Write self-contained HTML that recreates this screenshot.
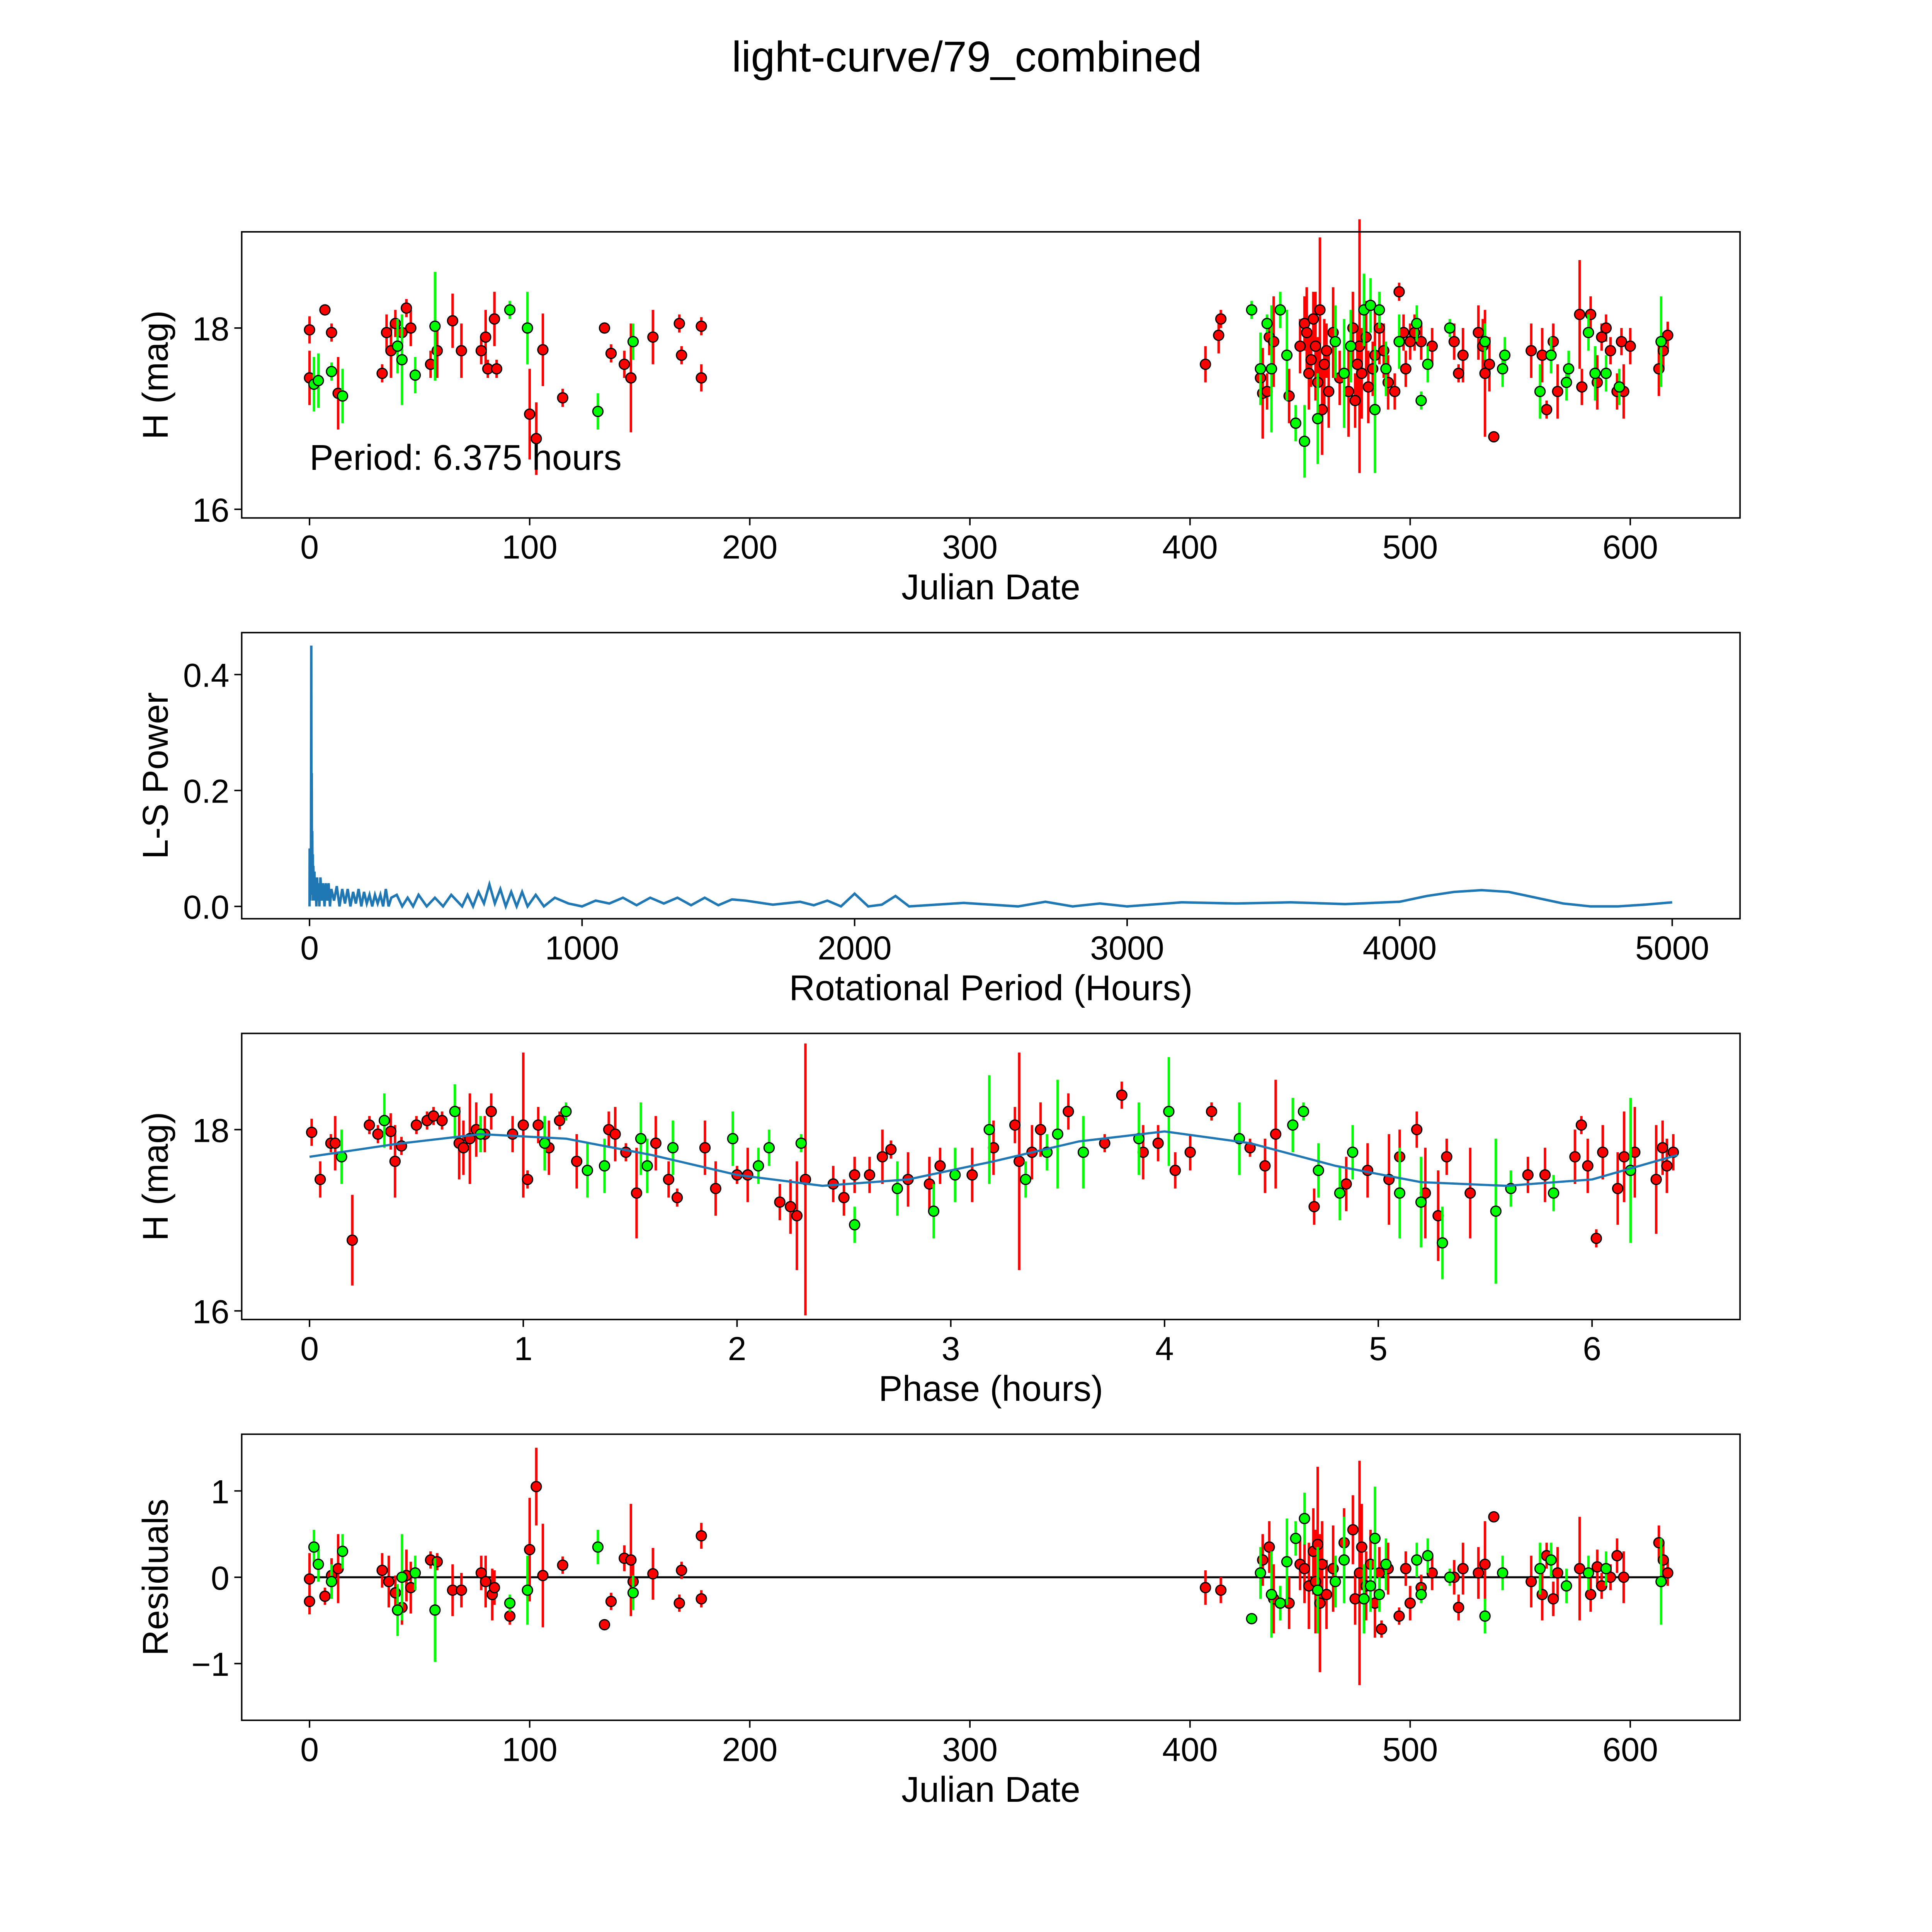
<!DOCTYPE html>
<html><head><meta charset="utf-8"><style>
html,body{margin:0;padding:0;background:#fff;overflow:hidden;}
svg{display:block;font-family:"Liberation Sans","DejaVu Sans",sans-serif;}
</style></head><body>
<svg id="fig" width="5400" height="5400" viewBox="0 0 1692 1692" xmlns="http://www.w3.org/2000/svg">
<rect x="0" y="0" width="1692" height="1692" fill="#fff"/>
<text x="784" y="58" font-size="35" text-anchor="middle">light-curve/79_combined</text>
</svg>
<script>
// ---------- DATA ----------
const p1RedDate=[0,0,7,10,13,33,35,37,39,42,44,46,55,58,65,69,78,80,81,84,85,100,103,106,115,134,137,143,146,156,168,169,178,178,407,413,414,432,433,435,436,438,445,450,452,453,454,455,456,457,458,459,460,461,462,463,465,468,472,474,475,476,477,478,480,481,483,484,486,488,490,493,495,497,498,500,502,505,510,520,522,524,531,533,534,536,538,555,560,562,565,567,577,578,582,585,587,589,591,594,596,597,600,613,615,617];
const p1RedMag=[17.98,17.45,18.2,17.95,17.28,17.5,17.95,17.75,18.05,17.95,18.22,18.0,17.6,17.75,18.08,17.75,17.75,17.9,17.55,18.1,17.55,17.05,16.78,17.76,17.23,18.0,17.72,17.6,17.45,17.9,18.05,17.7,18.02,17.45,17.6,17.92,18.1,17.45,17.28,17.3,17.9,17.85,17.25,17.8,18.05,17.95,17.5,17.65,18.1,17.8,17.4,18.2,17.1,17.6,17.75,17.3,17.95,17.45,17.3,18.0,17.2,17.6,17.8,17.5,17.9,17.35,17.55,17.7,18.0,17.75,17.4,17.3,18.4,17.95,17.55,17.85,17.95,17.85,17.8,17.85,17.5,17.7,17.95,17.8,17.5,17.6,16.8,17.75,17.7,17.1,17.85,17.3,18.15,17.35,18.15,17.4,17.9,18.0,17.75,17.3,17.85,17.3,17.8,17.55,17.75,17.92];
const p1RedErr=[.15,.3,.05,.1,.4,.1,.2,.3,.15,.2,.1,.2,.15,.3,.3,.3,.15,.3,.1,.3,.1,.5,.4,.4,.1,.05,.1,.15,.6,.3,.1,.1,.1,.15,.2,.2,.1,.2,.5,.2,.2,.5,.3,.3,.3,.5,.4,.3,.3,.6,.5,.8,.5,.5,.3,.4,.5,.3,.5,.4,.3,.4,1.4,.5,.4,.4,.3,.5,.4,.3,.3,.2,.1,.2,.2,.2,.2,.2,.2,.2,.1,.3,.3,.3,.7,.3,.05,.3,.3,.1,.2,.3,.6,.2,.2,.3,.15,.15,.15,.2,.15,.3,.2,.3,.2,.15];
const p1GreenDate=[2,4,10,15,40,42,48,57,91,99,131,147,428,432,435,437,441,444,448,452,458,466,470,473,479,482,484,486,489,495,503,505,508,518,534,542,543,559,564,571,572,581,584,589,595,614];
const p1GreenMag=[17.38,17.42,17.52,17.25,17.8,17.65,17.48,18.02,18.2,18.0,17.08,17.85,18.2,17.55,18.05,17.55,18.2,17.7,16.95,16.75,17.0,17.85,17.5,17.8,18.2,18.25,17.1,18.2,17.55,17.85,18.05,17.2,17.6,18.0,17.85,17.55,17.7,17.3,17.7,17.4,17.55,17.95,17.5,17.5,17.35,17.85];
const p1GreenErr=[.3,.3,.1,.3,.3,.5,.2,.6,.1,.4,.2,.2,.1,.4,.1,.7,.2,.5,.2,.4,.5,.4,.6,.4,.4,.3,.7,.2,.3,.3,.2,.1,.2,.1,.2,.2,.2,.3,.2,.2,.2,.2,.3,.2,.2,.5];

const lsPeriod=[0,0.5,1,2,3,4,5,6,6.4,7,8,9,10,11,12,13,14,16,18,20,22,25,28,30,33,36,40,45,50,55,60,65,70,75,80,90,100,110,120,130,140,150,160,170,180,190,200,210,220,230,240,250,260,270,280,290,300,320,340,360,380,400,430,460,490,520,560,580,600,620,640,660,680,700,720,740,760,780,800,830,860,900,950,1000,1050,1100,1150,1200,1250,1300,1350,1400,1450,1500,1550,1600,1700,1800,1850,1900,1950,2000,2050,2100,2150,2200,2300,2400,2500,2600,2700,2800,2900,3000,3200,3400,3600,3800,4000,4100,4200,4300,4400,4500,4600,4700,4800,4900,5000];
const lsPower=[0,0.1,0.02,0.09,0.01,0.07,0.05,0.3,0.45,0.08,0.23,0.02,0.13,0.03,0.09,0.01,0.07,0.02,0.06,0.01,0.05,0.0,0.05,0.01,0.04,0.0,0.05,0.01,0.04,0.0,0.04,0.01,0.04,0.0,0.03,0.01,0.035,0.0,0.03,0.005,0.03,0.0,0.025,0.005,0.03,0.0,0.025,0.005,0.02,0.0,0.02,0.005,0.02,0.0,0.03,0.0,0.015,0.02,0.0,0.015,0.0,0.02,0.0,0.015,0.0,0.02,0.0,0.02,0.0,0.025,0.005,0.038,0.005,0.03,0.0,0.025,0.0,0.025,0.0,0.02,0.0,0.015,0.005,0.0,0.01,0.005,0.015,0.002,0.015,0.005,0.015,0.002,0.015,0.002,0.012,0.01,0.003,0.008,0.002,0.01,0.0,0.022,0.0,0.003,0.018,0.0,0.003,0.006,0.003,0.0,0.008,0.0,0.005,0.0,0.007,0.005,0.007,0.004,0.008,0.018,0.025,0.028,0.025,0.015,0.005,0.0,0.0,0.003,0.007];

const p3RedPhase=[0.01,0.05,0.1,0.12,0.2,0.28,0.32,0.38,0.4,0.43,0.5,0.55,0.58,0.62,0.7,0.72,0.75,0.78,0.82,0.85,0.95,1.0,1.02,1.07,1.12,1.17,1.25,1.4,1.43,1.48,1.53,1.62,1.68,1.72,1.85,1.9,2.0,2.05,2.2,2.25,2.28,2.32,2.45,2.5,2.55,2.62,2.68,2.72,2.8,2.9,2.95,3.1,3.2,3.3,3.32,3.38,3.42,3.55,3.72,3.8,3.9,3.97,4.05,4.12,4.22,4.4,4.47,4.52,4.7,4.85,4.95,5.05,5.1,5.18,5.22,5.28,5.32,5.43,5.7,5.78,5.92,5.95,5.98,6.02,6.05,6.12,6.15,6.2,6.3,6.33,6.35,6.38];
const p3RedMag=[17.97,17.45,17.85,17.85,16.78,18.05,17.95,17.98,17.65,17.82,18.05,18.1,18.15,18.1,17.85,17.8,17.9,18.0,17.95,18.2,17.95,18.05,17.45,18.05,17.8,18.1,17.65,18.0,17.95,17.75,17.3,17.85,17.45,17.25,17.8,17.35,17.5,17.5,17.2,17.15,17.05,17.45,17.4,17.25,17.5,17.5,17.7,17.78,17.45,17.4,17.6,17.5,17.8,18.05,17.65,17.75,18.0,18.2,17.85,18.38,17.75,17.85,17.55,17.75,18.2,17.8,17.6,17.95,17.15,17.4,17.55,17.45,17.7,18.0,17.3,17.05,17.7,17.3,17.5,17.5,17.7,18.05,17.6,16.8,17.75,17.35,17.7,17.75,17.45,17.8,17.6,17.75];
const p3RedErr=[.15,.2,.1,.3,.5,.1,.1,.2,.4,.1,.1,.1,.1,.1,.4,.3,.5,.3,.2,.2,.2,.8,.1,.2,.3,.1,.3,.2,.3,.1,.5,.3,.2,.1,.3,.3,.1,.3,.2,.3,.6,1.5,.2,.2,.2,.2,.3,.1,.3,.3,.2,.3,.3,.2,1.2,.3,.3,.2,.1,.15,.3,.2,.2,.2,.1,.1,.3,.6,.2,.3,.3,.5,.3,.2,.5,.5,.2,.5,.2,.3,.3,.1,.3,.1,.3,.4,.5,.5,.6,.3,.3,.2];
const p3GreenPhase=[0.15,0.35,0.68,0.8,1.1,1.2,1.3,1.38,1.55,1.58,1.7,1.98,2.1,2.15,2.3,2.55,2.75,2.92,3.02,3.18,3.35,3.45,3.5,3.62,3.88,4.02,4.35,4.6,4.65,4.72,4.82,4.88,5.1,5.2,5.3,5.55,5.62,5.82,6.18];
const p3GreenMag=[17.7,18.1,18.2,17.95,17.85,18.2,17.55,17.6,17.9,17.6,17.8,17.9,17.6,17.8,17.85,16.95,17.35,17.1,17.5,18.0,17.45,17.75,17.95,17.75,17.9,18.2,17.9,18.05,18.2,17.55,17.3,17.75,17.3,17.2,16.75,17.1,17.35,17.3,17.55];
const p3GreenErr=[.3,.3,.3,.2,.3,.1,.3,.3,.4,.3,.3,.3,.2,.2,.1,.2,.3,.3,.3,.6,.2,.2,.6,.4,.4,.6,.4,.3,.1,.3,.3,.3,.5,.5,.4,.8,.2,.2,.8];
const modelPhase=[0,0.4,0.8,1.2,1.6,2.0,2.4,2.8,3.2,3.6,4.0,4.4,4.8,5.2,5.6,6.0,6.4];
const modelMag=[17.7,17.84,17.95,17.9,17.72,17.5,17.38,17.45,17.65,17.87,17.98,17.85,17.6,17.42,17.38,17.45,17.72];

const p4RedDate=[0,0,7,10,13,33,36,39,42,44,46,55,58,65,69,78,80,83,84,91,100,103,106,115,134,137,143,146,147,156,168,169,178,178,407,414,433,436,438,445,450,452,454,456,457,458,459,460,462,465,470,474,475,477,478,480,482,484,486,487,490,495,498,500,505,510,520,522,524,531,534,538,555,560,562,565,567,577,582,585,587,591,594,597,613,615,617];
const p4RedRes=[-0.02,-0.28,-0.22,0.02,0.1,0.08,-0.05,-0.18,-0.35,0.02,-0.12,0.2,0.18,-0.15,-0.15,0.05,-0.05,-0.2,-0.12,-0.45,0.32,1.05,0.02,0.14,-0.55,-0.28,0.22,0.2,-0.05,0.04,-0.3,0.08,0.48,-0.25,-0.12,-0.15,0.2,0.35,-0.25,-0.3,0.15,0.1,-0.1,0.3,-0.05,0.38,-0.3,0.15,-0.2,0.1,0.4,0.55,-0.25,0.05,0.35,-0.1,0.15,-0.3,0.05,-0.6,0.1,-0.45,0.1,-0.3,-0.12,0.05,0.0,-0.35,0.1,0.05,0.15,0.7,-0.05,-0.2,0.25,-0.25,0.05,0.1,-0.2,0.12,-0.1,0.0,0.25,0.0,0.4,0.2,0.05];
const p4RedErr=[.3,.15,.1,.2,.4,.2,.3,.2,.2,.3,.3,.1,.1,.3,.2,.2,.3,.3,.2,.1,.6,.45,.6,.1,.05,.1,.15,.65,.3,.3,.1,.1,.15,.1,.2,.15,.3,.3,.4,.3,.3,.4,.5,.5,.6,.9,.8,.5,.4,.5,.4,.4,.3,1.3,.5,.4,.4,.4,.3,.1,.3,.1,.2,.2,.15,.2,.2,.15,.3,.3,.5,.05,.3,.3,.15,.2,.3,.6,.2,.2,.15,.15,.2,.3,.2,.2,.15];
const p4GreenDate=[2,4,10,15,40,42,48,57,91,99,131,147,428,432,437,441,444,448,452,458,466,470,479,482,484,486,489,503,505,508,518,534,542,559,564,571,581,589,614];
const p4GreenRes=[0.35,0.15,-0.05,0.3,-0.38,0.0,0.05,-0.38,-0.3,-0.15,0.35,-0.18,-0.48,0.05,-0.2,-0.3,0.18,0.45,0.68,-0.15,-0.05,0.2,-0.25,-0.1,0.45,-0.2,0.15,0.2,-0.2,0.25,0.0,-0.45,0.05,0.1,0.2,-0.1,0.05,0.1,-0.05];
const p4GreenErr=[.2,.2,.2,.2,.3,.5,.2,.6,.1,.4,.2,.2,.05,.3,.5,.2,.5,.2,.3,.5,.3,.5,.4,.3,.6,.2,.3,.2,.1,.2,.1,.2,.2,.3,.2,.2,.2,.2,.5];

const dateTicks=[0,100,200,300,400,500,600];
const magTicks=[16,18];
const lsXTicks=[0,1000,2000,3000,4000,5000];
const lsYTicks=[0,0.2,0.4];
const phaseTicks=[0,1,2,3,4,5,6];
const resTicks=[-1,0,1];

// ---------- DRAWING ----------
const NS='http://www.w3.org/2000/svg';
const svg=document.getElementById('fig');
function mk(tag,attrs,parent){const e=document.createElementNS(NS,tag);for(const k in attrs)e.setAttribute(k,attrs[k]);(parent||svg).appendChild(e);return e;}
function lin(d0,d1,p0,p1){return v=>p0+(v-d0)*(p1-p0)/(d1-d0);}
const AX_L=196,AX_R=1411;
function panel(name,top,xs,ys,xticks,yticks,xfmt,yfmt,xlabel,ylabel){
  const g=mk('g',{});
  
  
  const bottom=top+232;
  xticks.forEach(t=>{const x=xs(t);
    const l=mk('line',{x1:x,x2:x,y1:bottom,y2:bottom+6,stroke:'#000','stroke-width':1.2},g);
    
    const tx=mk('text',{x:x,y:bottom+33,'font-size':27,'text-anchor':'middle'},g);tx.textContent=xfmt(t);
    });
  yticks.forEach(t=>{const y=ys(t);
    const l=mk('line',{x1:AX_L-6,x2:AX_L,y1:y,y2:y,stroke:'#000','stroke-width':1.2},g);
    
    const tx=mk('text',{x:AX_L-10,y:y+10,'font-size':27,'text-anchor':'end'},g);tx.textContent=yfmt(t);
    });
  const xl=mk('text',{x:(AX_L+AX_R)/2,y:bottom+66,'font-size':29,'text-anchor':'middle'},g);xl.textContent=xlabel;
  
  const yl=mk('text',{x:0,y:0,'font-size':29,'text-anchor':'middle',transform:`translate(136,${top+116}) rotate(-90)`},g);yl.textContent=ylabel;
  
  const clip=mk('g',{},g);
  
  return {g,clip,frame:()=>{const r=mk('rect',{x:AX_L,y:top,width:AX_R-AX_L,height:232,fill:'none',stroke:'#000','stroke-width':1.2},g);}};
}
function errPoints(parent,xs,ys,X,Y,E,color,nm){
  for(let i=0;i<X.length;i++){
    const x=xs(X[i]);
    const l=mk('line',{x1:x,x2:x,y1:ys(Y[i]-E[i]),y2:ys(Y[i]+E[i]),stroke:color,'stroke-width':2},parent);
    
    
  }
  for(let i=0;i<X.length;i++){
    const c=mk('circle',{cx:xs(X[i]),cy:ys(Y[i]),r:4.1,fill:color,stroke:'#000','stroke-width':1},parent);
    
    
  }
}
const fmtInt=v=>String(v);
const fmtMinus=v=>v<0?'\u2212'+Math.abs(v):String(v);

{const xs=lin(0,600,251,1322), ys=lin(16,18,413,266);
 const p=panel('light-curve-panel',188,xs,ys,dateTicks,magTicks,fmtInt,fmtInt,'Julian Date','H (mag)');
 errPoints(p.clip,xs,ys,p1RedDate,p1RedMag,p1RedErr,'#ff0000','red-obs');
 errPoints(p.clip,xs,ys,p1GreenDate,p1GreenMag,p1GreenErr,'#00ff00','green-obs');
 const t=mk('text',{x:251,y:381,'font-size':29},p.g);t.textContent='Period: 6.375 hours';
 
 p.frame();}
{const xs=lin(0,5000,251,1356), ys=lin(0,0.4,735,547);
 const p=panel('periodogram-panel',513,xs,ys,lsXTicks,lsYTicks,fmtInt,v=>v.toFixed(1),'Rotational Period (Hours)','L-S Power');
 const pts=lsPeriod.map((v,i)=>xs(v).toFixed(2)+','+ys(lsPower[i]).toFixed(2)).join(' ');
 const pl=mk('polyline',{points:pts,fill:'none',stroke:'#1f77b4','stroke-width':2},p.clip);
 
 p.frame();}
{const xs=lin(0,6,251,1291), ys=lin(16,18,1063,916);
 const p=panel('phase-panel',838,xs,ys,phaseTicks,magTicks,fmtInt,fmtInt,'Phase (hours)','H (mag)');
 errPoints(p.clip,xs,ys,p3RedPhase,p3RedMag,p3RedErr,'#ff0000','red-obs');
 errPoints(p.clip,xs,ys,p3GreenPhase,p3GreenMag,p3GreenErr,'#00ff00','green-obs');
 let d='';modelPhase.forEach((v,i)=>{d+=(i?' L':'M')+xs(v).toFixed(2)+' '+ys(modelMag[i]).toFixed(2);});
 const m=mk('path',{d:d,fill:'none',stroke:'#1f77b4','stroke-width':1.8,'stroke-linejoin':'round'},p.clip);
 
 p.frame();}
{const xs=lin(0,600,251,1322), ys=lin(0,1,1279,1209);
 const p=panel('residuals-panel',1163,xs,ys,dateTicks,resTicks,fmtInt,fmtMinus,'Julian Date','Residuals');
 const z=mk('line',{x1:xs(0),x2:xs(617),y1:ys(0),y2:ys(0),stroke:'#000','stroke-width':1.6},p.clip);
 
 errPoints(p.clip,xs,ys,p4RedDate,p4RedRes,p4RedErr,'#ff0000','red-resid');
 errPoints(p.clip,xs,ys,p4GreenDate,p4GreenRes,p4GreenErr,'#00ff00','green-resid');
 p.frame();}
</script>
</body></html>
